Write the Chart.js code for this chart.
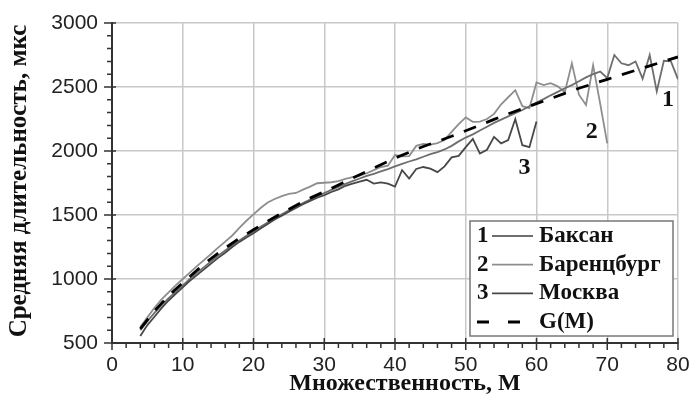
<!DOCTYPE html>
<html>
<head>
<meta charset="utf-8">
<script src="https://cdn.jsdelivr.net/npm/chart.js@4.4.1/dist/chart.umd.min.js"></script>
<style>
  html, body { margin: 0; background: #fff; }
</style>
</head>
<body>
<canvas id="myChart" width="690" height="403"></canvas>
<script>
// множественность M для рядов наблюдений
const mult = [4, 5, 6, 7, 8, 9, 10, 11, 12, 13, 14, 15, 16, 17, 18, 19, 20,
  21, 22, 23, 24, 25, 26, 27, 28, 29, 30, 31, 32, 33, 34, 35, 36, 37, 38, 39, 40,
  41, 42, 43, 44, 45, 46, 47, 48, 49, 50, 51, 52, 53, 54, 55, 56, 57, 58, 59, 60,
  61, 62, 63, 64, 65, 66, 67, 68, 69, 70, 71, 72, 73, 74, 75, 76, 77, 78, 79, 80];

// средняя длительность, мкс
const baksan = [600, 670, 735, 795, 850, 900, 950,
  1000, 1048, 1093, 1138, 1182, 1222, 1262, 1300, 1338, 1372,
  1408, 1442, 1475, 1506, 1536, 1566, 1594, 1621, 1647, 1672,
  1696, 1720, 1743, 1765, 1785, 1805, 1822, 1840, 1858, 1880,
  1900, 1918, 1935, 1955, 1975, 1992, 2012, 2040, 2075, 2105,
  2130, 2160, 2190, 2220, 2245, 2270, 2295, 2320, 2350, 2378,
  2405, 2435, 2462, 2490, 2515, 2545, 2575, 2600, 2620, 2570,
  2750, 2685, 2670, 2700, 2565, 2750, 2465, 2705, 2700, 2560];

const barents = [625, 700, 775, 840, 895, 950, 1000,
  1050, 1100, 1148, 1195, 1245, 1292, 1340, 1400, 1455, 1505,
  1555, 1598, 1625, 1648, 1665, 1672, 1698, 1722, 1748, 1752,
  1756, 1765, 1782, 1796, 1808, 1826, 1850, 1875, 1885, 1968,
  1958, 1960, 2040, 2055, 2050, 2062, 2085, 2150, 2210, 2262,
  2228, 2230, 2250, 2290, 2365, 2420, 2475, 2350, 2335, 2535,
  2515, 2530, 2505, 2460, 2685, 2440, 2360, 2670, 2370, 2060];

const moscow = [555, 640, 705, 772, 832, 884, 935,
  985, 1030, 1075, 1120, 1165, 1205, 1250, 1290, 1325, 1358,
  1395, 1430, 1465, 1495, 1525, 1555, 1585, 1610, 1635, 1655,
  1680, 1700, 1728, 1745, 1760, 1775, 1745, 1755, 1745, 1722,
  1850, 1785, 1860, 1875, 1862, 1835, 1880, 1950, 1962, 2030,
  2095, 1980, 2010, 2110, 2060, 2085, 2250, 2045, 2030, 2230];

// аппроксимация G(M)
const gMult = [4, 6, 8, 10, 12, 14, 16, 18, 20, 22, 24, 26, 28, 30, 32, 34, 36, 38, 40,
  42, 44, 46, 48, 50, 52, 54, 56, 58, 60, 62, 64, 66, 68, 70, 72, 74, 76, 78, 80];
const gVal = [610, 750, 870, 970, 1068, 1160, 1242, 1318, 1385, 1452, 1515, 1575, 1632,
  1682, 1735, 1788, 1840, 1893, 1945, 1990, 2035, 2075, 2115, 2158, 2202, 2247, 2290,
  2330, 2370, 2410, 2450, 2490, 2525, 2560, 2595, 2630, 2665, 2700, 2735];

const names = ["Баксан", "Баренцбург", "Москва", "G(M)"];
const colors = ["#6e6e6e", "#8e8e8e", "#484848", "#000000"];

// номера кривых у концов рядов: [M, мкс]
const curveTags = [["1", 78.6, 2400], ["2", 67.8, 2150], ["3", 58.3, 1870]];

function pts(xs, ys) {
  return ys.map((v, i) => ({ x: xs[i], y: v }));
}

const serif = "'Liberation Serif', 'Times New Roman', serif";
const sans = "'Liberation Sans', Arial, sans-serif";

// малые деления, подписи осей, номера кривых и легенда
const decor = {
  id: "decor",
  afterDraw(chart) {
    const ctx = chart.ctx;
    const xs = chart.scales.x, ys = chart.scales.y;
    const area = chart.chartArea;
    ctx.save();
    ctx.strokeStyle = "#333";
    ctx.lineWidth = 1.5;
    ctx.beginPath();
    for (let m = 0; m <= 80; m += 2) {
      const px = xs.getPixelForValue(m);
      const major = m % 10 === 0;
      ctx.moveTo(px, area.bottom - (major ? 5 : 0));
      ctx.lineTo(px, area.bottom + (major ? 7 : 5));
    }
    for (let v = 500; v <= 3000; v += 100) {
      const py = ys.getPixelForValue(v);
      const major = v % 500 === 0;
      ctx.moveTo(area.left - (major ? 8 : 5), py);
      ctx.lineTo(area.left + (major ? 4 : 0), py);
    }
    ctx.stroke();

    ctx.fillStyle = "#111";
    ctx.font = "bold 24px " + serif;
    ctx.textAlign = "center";
    ctx.textBaseline = "middle";
    ctx.fillText("Множественность, М", 405, 384);
    ctx.save();
    ctx.translate(20, 181);
    ctx.rotate(-Math.PI / 2);
    ctx.font = "bold 25px " + serif;
    ctx.fillText("Средняя длительность, мкс", 0, 0);
    ctx.restore();

    curveTags.forEach(([t, m, v]) => {
      ctx.fillText(t, xs.getPixelForValue(m), ys.getPixelForValue(v));
    });

    // легенда
    const bx = area.right - 208, by = area.bottom - 122, bw = 203, bh = 115;
    ctx.fillStyle = "#fff";
    ctx.fillRect(bx, by, bw, bh);
    ctx.strokeStyle = "#777";
    ctx.lineWidth = 1.5;
    ctx.strokeRect(bx, by, bw, bh);
    ctx.font = "bold 23px " + serif;
    for (let i = 0; i < 4; i++) {
      const y = by + 15 + i * 28.7;
      ctx.fillStyle = "#111";
      ctx.textAlign = "left";
      if (i < 3) {
        ctx.fillText(String(i + 1), bx + 7, y);
        ctx.strokeStyle = colors[i];
        ctx.lineWidth = 1.8;
        ctx.setLineDash([]);
        ctx.beginPath();
        ctx.moveTo(bx + 22, y);
        ctx.lineTo(bx + 63, y);
        ctx.stroke();
      } else {
        ctx.strokeStyle = "#000";
        ctx.lineWidth = 3;
        ctx.setLineDash([12, 19]);
        ctx.beginPath();
        ctx.moveTo(bx + 7, y);
        ctx.lineTo(bx + 52, y);
        ctx.stroke();
        ctx.setLineDash([]);
      }
      ctx.fillText(names[i], bx + 69, y);
    }
    ctx.restore();
  }
};

const data = {
  datasets: [
    { label: names[3], data: pts(gMult, gVal), borderColor: colors[3],
      borderWidth: 2.8, borderDash: [13, 11], order: 0 },
    { label: names[0], data: pts(mult, baksan), borderColor: colors[0],
      borderWidth: 1.8, order: 2 },
    { label: names[1], data: pts(mult, barents), borderColor: colors[1],
      borderWidth: 1.8, order: 3 },
    { label: names[2], data: pts(mult, moscow), borderColor: colors[2],
      borderWidth: 1.8, order: 1 },
  ],
};

const tickFont = { family: sans, size: 21 };
const plain = (v) => String(v);

const config = {
  type: "line",
  data: data,
  options: {
    responsive: false,
    animation: false,
    elements: { point: { radius: 0 }, line: { tension: 0, fill: false } },
    layout: { padding: { left: 0, right: 12, top: 23, bottom: 0 } },
    plugins: { legend: { display: false }, tooltip: { enabled: false } },
    scales: {
      x: {
        type: "linear", min: 0, max: 80,
        afterFit: (s) => { s.height = 60; s.paddingLeft = 0; s.paddingRight = 0; },
        ticks: { stepSize: 10, padding: 10, color: "#222", font: tickFont, maxRotation: 0, callback: plain },
        grid: { color: "#c8c8c8", lineWidth: 1.5, drawTicks: false },
        border: { color: "#333", width: 2 },
      },
      y: {
        min: 500, max: 3000,
        afterFit: (s) => { s.width = 112; s.paddingTop = 0; s.paddingBottom = 0; },
        ticks: { stepSize: 500, padding: 14, color: "#222", font: tickFont, callback: plain },
        grid: { color: "#c8c8c8", lineWidth: 1.5, drawTicks: false },
        border: { color: "#333", width: 2 },
      },
    },
  },
  plugins: [decor],
};

const myChart = new Chart(document.getElementById("myChart"), config);
</script>
</body>
</html>
